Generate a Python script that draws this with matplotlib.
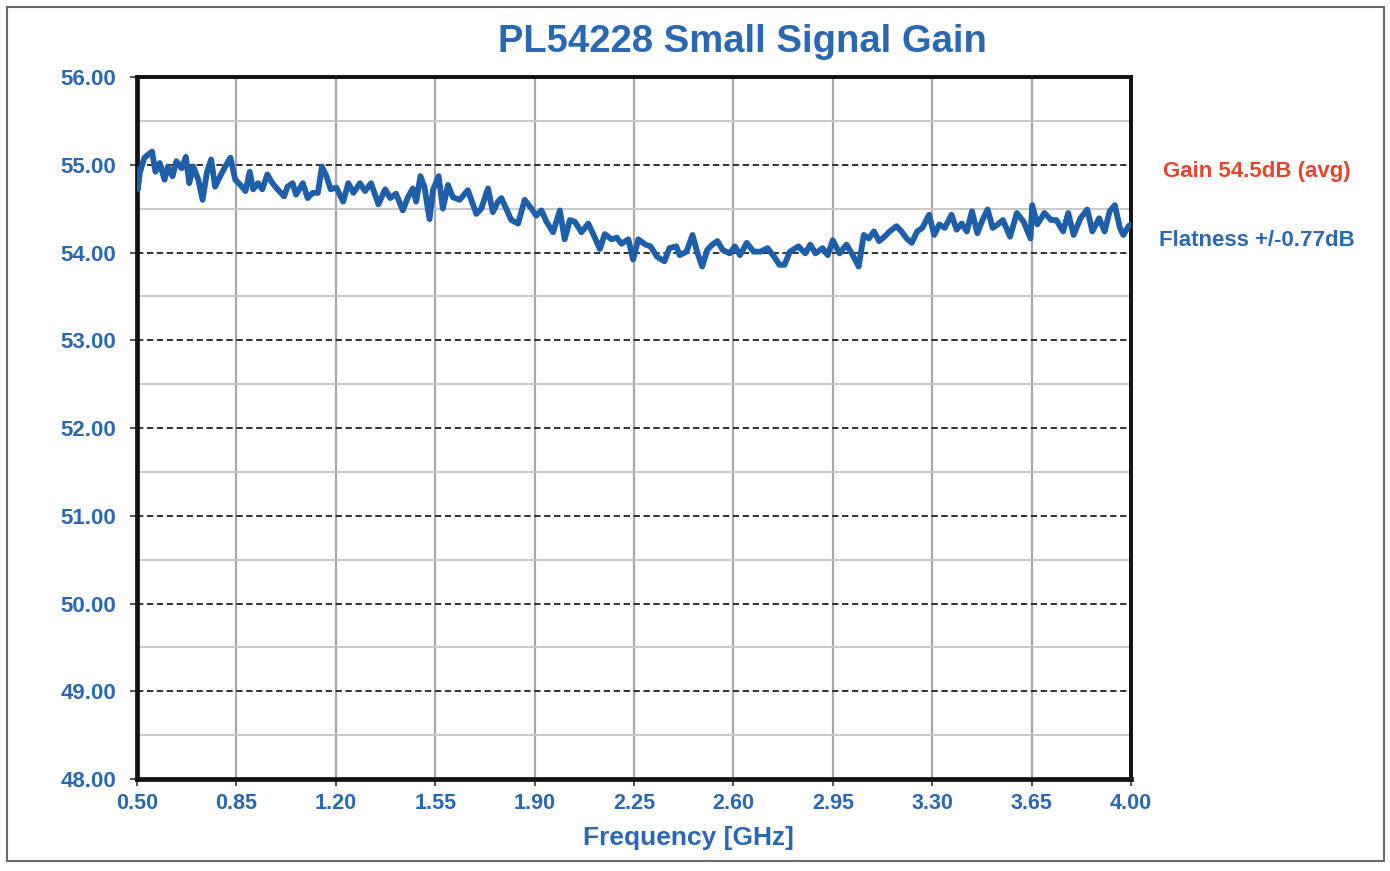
import matplotlib
matplotlib.use("Agg")
import matplotlib.pyplot as plt
from matplotlib.patches import Rectangle
from matplotlib.ticker import MultipleLocator

freq_ghz = [0.500, 0.503, 0.510, 0.526, 0.553, 0.565, 0.580, 0.597, 0.609, 0.625, 0.639,
            0.657, 0.672, 0.684, 0.698, 0.716, 0.731, 0.746, 0.761, 0.775, 0.793,
            0.811, 0.829, 0.846, 0.864, 0.882, 0.897, 0.909, 0.926, 0.941, 0.959,
            0.977, 0.995, 1.018, 1.030, 1.048, 1.060, 1.084, 1.101, 1.119, 1.137,
            1.151, 1.167, 1.182, 1.202, 1.226, 1.244, 1.262, 1.285, 1.303, 1.324,
            1.350, 1.374, 1.392, 1.412, 1.436, 1.454, 1.471, 1.483, 1.498, 1.512,
            1.530, 1.542, 1.562, 1.577, 1.595, 1.612, 1.636, 1.665, 1.695, 1.712,
            1.736, 1.753, 1.771, 1.783, 1.800, 1.818, 1.842, 1.865, 1.889, 1.906,
            1.924, 1.942, 1.965, 1.989, 2.006, 2.024, 2.042, 2.065, 2.089, 2.112,
            2.130, 2.147, 2.171, 2.189, 2.206, 2.230, 2.247, 2.265, 2.290, 2.308,
            2.332, 2.357, 2.375, 2.399, 2.411, 2.435, 2.456, 2.472, 2.490, 2.508,
            2.526, 2.544, 2.562, 2.587, 2.605, 2.623, 2.647, 2.671, 2.696, 2.720,
            2.744, 2.762, 2.780, 2.799, 2.829, 2.853, 2.871, 2.889, 2.914, 2.932,
            2.950, 2.974, 2.998, 3.017, 3.041, 3.059, 3.077, 3.095, 3.113, 3.132,
            3.150, 3.174, 3.192, 3.210, 3.228, 3.247, 3.265, 3.289, 3.307, 3.325,
            3.344, 3.368, 3.386, 3.404, 3.422, 3.440, 3.459, 3.477, 3.495, 3.513,
            3.531, 3.549, 3.574, 3.598, 3.622, 3.646, 3.652, 3.670, 3.695, 3.719,
            3.737, 3.761, 3.779, 3.798, 3.822, 3.846, 3.864, 3.888, 3.907, 3.925,
            3.943, 3.961, 3.973, 3.991, 4.000]

gain_db = [54.95, 54.72, 54.91, 55.08, 55.15, 54.92, 55.02, 54.83, 54.98, 54.87, 55.04,
           54.96, 55.09, 54.79, 54.98, 54.83, 54.60, 54.91, 55.06, 54.75, 54.87,
           54.98, 55.08, 54.83, 54.77, 54.70, 54.92, 54.72, 54.79, 54.72, 54.89,
           54.79, 54.72, 54.64, 54.75, 54.79, 54.66, 54.79, 54.62, 54.68, 54.68,
           54.98, 54.87, 54.72, 54.74, 54.58, 54.79, 54.68, 54.79, 54.70, 54.79,
           54.55, 54.72, 54.62, 54.67, 54.48, 54.63, 54.73, 54.58, 54.87, 54.75,
           54.38, 54.71, 54.87, 54.50, 54.77, 54.63, 54.60, 54.71, 54.44, 54.50,
           54.73, 54.46, 54.58, 54.62, 54.50, 54.37, 54.33, 54.60, 54.50, 54.42,
           54.48, 54.35, 54.23, 54.48, 54.15, 54.37, 54.35, 54.23, 54.33, 54.17,
           54.04, 54.21, 54.15, 54.17, 54.10, 54.15, 53.92, 54.15, 54.09, 54.07,
           53.95, 53.90, 54.05, 54.07, 53.97, 54.01, 54.20, 54.01, 53.84, 54.03,
           54.09, 54.13, 54.03, 53.99, 54.07, 53.97, 54.11, 54.01, 54.01, 54.05,
           53.95, 53.86, 53.86, 54.01, 54.07, 53.99, 54.09, 53.99, 54.05, 53.97,
           54.14, 53.99, 54.09, 53.99, 53.84, 54.20, 54.16, 54.24, 54.13, 54.18,
           54.24, 54.30, 54.24, 54.16, 54.11, 54.24, 54.28, 54.43, 54.20, 54.32,
           54.28, 54.43, 54.26, 54.33, 54.24, 54.47, 54.22, 54.37, 54.49, 54.28,
           54.32, 54.37, 54.18, 54.45, 54.35, 54.16, 54.54, 54.32, 54.45, 54.37,
           54.37, 54.24, 54.45, 54.20, 54.39, 54.49, 54.24, 54.39, 54.24, 54.47,
           54.54, 54.28, 54.20, 54.30, 54.32]

x_ticks = [0.50, 0.85, 1.20, 1.55, 1.90, 2.25, 2.60, 2.95, 3.30, 3.65, 4.00]
y_ticks = [48, 49, 50, 51, 52, 53, 54, 55, 56]

title_text = "PL54228 Small Signal Gain"
xlabel_text = "Frequency [GHz]"
note_gain = "Gain 54.5dB (avg)"
note_flat = "Flatness +/-0.77dB"

BLUE = "#2b68b3"
LINE = "#1f5ea8"
RED = "#e5452b"

plt.rcParams['font.family'] = ['Liberation Sans', 'DejaVu Sans']

fig = plt.figure(figsize=(13.9, 8.71), dpi=100)
W, H = 1390, 871
ax = fig.add_axes([137 / W, 1 - 779 / H, (1131 - 137) / W, (779 - 77) / H])

ax.set_xlim(0.5, 4.0)
ax.set_ylim(48, 56)
ax.set_xticks(x_ticks)
ax.set_xticklabels([f"{v:.2f}" for v in x_ticks])
ax.set_yticks(y_ticks)
ax.set_yticklabels([f"{v:.2f}" for v in y_ticks])
ax.yaxis.set_minor_locator(MultipleLocator(0.5))

# grid
for xv in x_ticks[1:-1]:
    ax.axvline(xv, color="#a8a8a8", lw=1.6, zorder=1)
for yv in [48.5, 49.5, 50.5, 51.5, 52.5, 53.5, 54.5, 55.5]:
    ax.axhline(yv, color="#c8c8c8", lw=1.4, zorder=1)
for yv in y_ticks[1:-1]:
    ax.axhline(yv, color="#222222", lw=1.3, ls=(0, (3.5, 2)), zorder=2)

ax.plot(freq_ghz, gain_db, color=LINE, lw=4.2, solid_joinstyle="round",
        solid_capstyle="round", zorder=3)

for s in ax.spines.values():
    s.set_color("#111111")
    s.set_linewidth(2.8)
ax.spines["left"].set_linewidth(3.4)
ax.spines["bottom"].set_linewidth(3.4)

ax.tick_params(axis="both", which="major", length=5, width=1.2, color="#333333",
               direction="out")
ax.tick_params(axis="both", which="minor", length=0)
ax.tick_params(axis="y", pad=10)
ax.tick_params(axis="x", pad=5)
for lab in ax.get_yticklabels():
    lab.set_color(BLUE)
    lab.set_fontsize(16)
    lab.set_fontweight("bold")
for lab in ax.get_xticklabels():
    lab.set_color(BLUE)
    lab.set_fontsize(15.5)
    lab.set_fontweight("bold")

fig.text(742 / W, 1 - 42 / H, title_text, color=BLUE, fontsize=27.5, fontweight="bold",
         ha="center", va="center")
fig.text(688 / W, 1 - 838 / H, xlabel_text, color=BLUE, fontsize=19, fontweight="bold",
         ha="center", va="center")
fig.text(1257 / W, 1 - 171 / H, note_gain, color=RED, fontsize=16, fontweight="bold",
         ha="center", va="center")
fig.text(1257 / W, 1 - 240 / H, note_flat, color=BLUE, fontsize=16, fontweight="bold",
         ha="center", va="center")

fig.patches.append(Rectangle((7 / W, 1 - 861 / H), (1384 - 7) / W, (861 - 7) / H,
                             transform=fig.transFigure, fill=False,
                             edgecolor="#6a6a6a", lw=1.5))

fig.savefig("out.png", dpi=100, facecolor="white")
